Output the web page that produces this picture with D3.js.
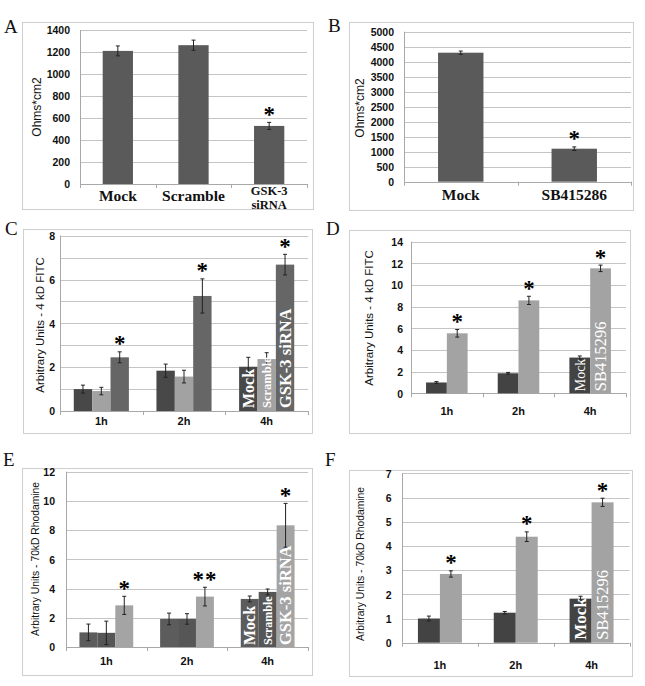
<!DOCTYPE html>
<html>
<head>
<meta charset="utf-8">
<script src="https://cdn.jsdelivr.net/npm/d3@7/dist/d3.min.js"></script>
<style>
  html, body { margin: 0; padding: 0; background: #fff; }
  svg { display: block; }
</style>
</head>
<body>
<svg id="chart" width="645" height="686"></svg>
<script>
// ---------------- DATA ----------------
// Panel A
const aCategories = ["Mock", "Scramble", "GSK-3 siRNA"];
const aValues = [1210, 1262, 528];
const aErrors = [45, 46, 32];
const aSig = ["", "", "*"];
const aTicks = [0, 200, 400, 600, 800, 1000, 1200, 1400];

// Panel B
const bCategories = ["Mock", "SB415286"];
const bValues = [4300, 1100];
const bErrors = [55, 60];
const bSig = ["", "*"];
const bTicks = [0, 500, 1000, 1500, 2000, 2500, 3000, 3500, 4000, 4500, 5000];

// Shared time points
const timePoints = ["1h", "2h", "4h"];

// Panel C (4 kD FITC, siRNA)
const cSeries = ["Mock", "Scramble", "GSK-3 siRNA"];
const cMock = [1.0, 1.84, 2.02];
const cMockErr = [0.18, 0.30, 0.43];
const cScramble = [0.91, 1.57, 2.37];
const cScrambleErr = [0.17, 0.29, 0.29];
const cGsk = [2.45, 5.25, 6.68];
const cGskErr = [0.25, 0.78, 0.47];
const cSig = ["*", "*", "*"];
const cGridTicks = [0, 1, 2, 3, 4, 5, 6, 7, 8];
const cLabelTicks = [0, 2, 4, 6, 8];

// Panel D (4 kD FITC, SB415296)
const dSeries = ["Mock", "SB415296"];
const dMock = [1.0, 1.85, 3.3];
const dMockErr = [0.08, 0.08, 0.15];
const dSb = [5.54, 8.58, 11.54];
const dSbErr = [0.35, 0.38, 0.30];
const dSig = ["*", "*", "*"];
const dTicks = [0, 2, 4, 6, 8, 10, 12, 14];

// Panel E (70kD Rhodamine, siRNA)
const eSeries = ["Mock", "Scramble", "GSK-3 siRNA"];
const eMock = [1.0, 1.92, 3.29];
const eMockErr = [0.57, 0.40, 0.20];
const eScramble = [0.97, 1.92, 3.77];
const eScrambleErr = [0.80, 0.36, 0.20];
const eGsk = [2.85, 3.45, 8.33];
const eGskErr = [0.62, 0.64, 1.50];
const eSig = ["*", "**", "*"];
const eTicks = [0, 2, 4, 6, 8, 10, 12];

// Panel F (70kD Rhodamine, SB415296)
const fSeries = ["Mock", "SB415296"];
const fMock = [1.0, 1.24, 1.82];
const fMockErr = [0.10, 0.05, 0.10];
const fSb = [2.84, 4.38, 5.80];
const fSbErr = [0.13, 0.20, 0.17];
const fSig = ["*", "*", "*"];
const fTicks = [0, 1, 2, 3, 4, 5, 6, 7];

// ---------------- DRAWING ----------------
const svg = d3.select("#chart");
const SANS = "'Liberation Sans', Arial, sans-serif";
const SERIF = "'Liberation Serif', 'Times New Roman', serif";

function drawPanel(cfg) {
  const g = svg.append("g");
  // frame
  const [fx0, fy0, fx1, fy1] = cfg.frame;
  g.append("rect").attr("x", fx0 + 0.5).attr("y", fy0 + 0.5)
    .attr("width", fx1 - fx0).attr("height", fy1 - fy0)
    .attr("fill", "none").attr("stroke", "#cfcfcf").attr("stroke-width", 1);
  // panel letter
  g.append("text").attr("x", cfg.letterPos[0]).attr("y", cfg.letterPos[1])
    .attr("font-family", SERIF).attr("font-size", 19).attr("fill", "#111")
    .text(cfg.letter);

  const y = d3.scaleLinear().domain(cfg.yDomain).range([cfg.y0, cfg.yTop]);
  const x0 = d3.scaleBand().domain(cfg.categories).range([cfg.xLeft, cfg.xRight])
    .paddingInner(cfg.groupPad).paddingOuter(cfg.groupPad / 2);
  const x1 = d3.scaleBand().domain(cfg.series.map(s => s.name))
    .range([0, x0.bandwidth()]).padding(0);

  // gridlines
  g.append("g").selectAll("line").data(cfg.gridTicks.filter(t => t > 0)).join("line")
    .attr("x1", cfg.xLeft).attr("x2", cfg.xRight)
    .attr("y1", d => Math.round(y(d)) + 0.5).attr("y2", d => Math.round(y(d)) + 0.5)
    .attr("stroke", "#c4c4c4").attr("stroke-width", 1);

  // y axis with tick labels
  const yAxis = d3.axisLeft(y).tickValues(cfg.labelTicks).tickSize(0).tickPadding(0)
    .tickFormat(d3.format("d"));
  const ya = g.append("g").attr("transform", `translate(${cfg.tickRight},0)`).call(yAxis);
  ya.select(".domain").remove();
  ya.selectAll("text").attr("font-family", SANS).attr("font-weight", "bold")
    .attr("font-size", 10.5).attr("fill", "#111").attr("dy", "0.36em");
  g.append("line").attr("x1", Math.round(cfg.xLeft) + 0.5).attr("x2", Math.round(cfg.xLeft) + 0.5)
    .attr("y1", cfg.y0).attr("y2", cfg.yTop).attr("stroke", "#a8a8a8");

  // x axis
  g.append("line").attr("x1", cfg.xLeft).attr("x2", cfg.xRight)
    .attr("y1", Math.round(cfg.y0) + 0.5).attr("y2", Math.round(cfg.y0) + 0.5)
    .attr("stroke", "#a8a8a8");
  const step = x0.step();
  const bounds = d3.range(cfg.categories.length + 1).map(i => cfg.xLeft + i * step);
  g.append("g").selectAll("line").data(bounds).join("line")
    .attr("x1", d => Math.round(d) + 0.5).attr("x2", d => Math.round(d) + 0.5)
    .attr("y1", cfg.y0).attr("y2", cfg.y0 + 4).attr("stroke", "#a8a8a8");

  // bars
  cfg.series.forEach((s, si) => {
    const bg = g.append("g");
    cfg.categories.forEach((c, ci) => {
      const v = s.values[ci], e = s.errors[ci];
      const bx = x0(c) + x1(s.name);
      const bw = x1.bandwidth();
      bg.append("rect").attr("x", bx).attr("y", y(v))
        .attr("width", bw).attr("height", y(0) - y(v)).attr("fill", s.color);
      const cx = bx + bw / 2;
      // error bar
      bg.append("line").attr("x1", cx).attr("x2", cx).attr("y1", y(v - e)).attr("y2", y(v + e))
        .attr("stroke", "#222").attr("stroke-width", 1);
      [v - e, v + e].forEach(val => {
        bg.append("line").attr("x1", cx - 2).attr("x2", cx + 2).attr("y1", y(val)).attr("y2", y(val))
          .attr("stroke", "#222").attr("stroke-width", 1);
      });
      // significance
      if (s.sig && s.sig[ci]) {
        bg.append("text").attr("x", cx).attr("y", y(v + e) - 0.5)
          .attr("text-anchor", "middle").attr("font-family", SERIF)
          .attr("font-weight", "bold")
          .attr("font-size", 23).attr("fill", "#000")
          .attr("letter-spacing", s.sig[ci].length > 1 ? 1 : 0)
          .text(s.sig[ci]);
      }
      // in-bar label
      if (s.inLabel && ci === cfg.categories.length - 1) {
        bg.append("text")
          .attr("transform", `translate(${cx},${y(0) - s.inLabel.offset}) rotate(-90)`)
          .attr("dy", "0.34em")
          .attr("font-family", SERIF).attr("font-weight", s.inLabel.bold ? "bold" : "normal")
          .attr("font-size", s.inLabel.size).attr("fill", "#fff")
          .text(s.inLabel.text);
      }
    });
  });

  // x category labels
  if (cfg.catLabelStyle === "serif") {
    cfg.categories.forEach((c, ci) => {
      const lines = cfg.catLines[ci];
      const multi = lines.length > 1;
      lines.forEach((ln, li) => {
        g.append("text").attr("text-anchor", "middle")
          .attr("font-family", SERIF).attr("font-weight", "bold")
          .attr("font-size", multi ? 12.5 : 15.5)
          .attr("fill", "#111")
          .attr("x", x0(c) + x0.bandwidth() / 2)
          .attr("y", (multi ? cfg.catY - 6 : cfg.catY) + li * 13.5).text(ln);
      });
    });
  } else {
    g.append("g").selectAll("text").data(cfg.categories).join("text")
      .attr("x", d => x0(d) + x0.bandwidth() / 2).attr("y", cfg.catY)
      .attr("text-anchor", "middle").attr("font-family", SANS).attr("font-weight", "bold")
      .attr("font-size", 11).attr("fill", "#111").text(d => d);
  }

  // y title
  g.append("text").attr("transform", `translate(${cfg.titlePos[0]},${cfg.titlePos[1]}) rotate(-90)`)
    .attr("text-anchor", "middle").attr("dy", "0.35em")
    .attr("font-family", SANS).attr("font-size", cfg.titleSize).attr("fill", "#111")
    .text(cfg.title);
}

// Panel A
drawPanel({
  letter: "A", letterPos: [4, 33], frame: [22, 22, 313, 209],
  categories: aCategories, catLabelStyle: "serif",
  catLines: [["Mock"], ["Scramble"], ["GSK-3", "siRNA"]], catY: 201,
  series: [{ name: "v", values: aValues, errors: aErrors, sig: aSig, color: "#5a5a5a" }],
  groupPad: 0.6, xLeft: 80, xRight: 307, y0: 184, yTop: 30, yDomain: [0, 1400],
  gridTicks: aTicks, labelTicks: aTicks, tickRight: 70,
  title: "Ohms*cm2", titleSize: 12, titlePos: [37, 107]
});

// Panel B
drawPanel({
  letter: "B", letterPos: [328, 32], frame: [349, 22, 633, 210],
  categories: bCategories, catLabelStyle: "serif",
  catLines: [["Mock"], ["SB415286"]], catY: 199.5,
  series: [{ name: "v", values: bValues, errors: bErrors, sig: bSig, color: "#5a5a5a" }],
  groupPad: 0.6, xLeft: 404, xRight: 631, y0: 181.7, yTop: 31.7, yDomain: [0, 5000],
  gridTicks: bTicks, labelTicks: bTicks, tickRight: 394,
  title: "Ohms*cm2", titleSize: 12, titlePos: [360, 108]
});

// Panel C
drawPanel({
  letter: "C", letterPos: [5, 235], frame: [23, 229, 312, 433],
  categories: timePoints, catLabelStyle: "sans", catY: 425,
  series: [
    { name: cSeries[0], values: cMock, errors: cMockErr, color: "#484848",
      inLabel: { text: cSeries[0], size: 16, bold: true, offset: 3 } },
    { name: cSeries[1], values: cScramble, errors: cScrambleErr, color: "#a2a2a2",
      inLabel: { text: cSeries[1], size: 12.5, bold: true, offset: 3 } },
    { name: cSeries[2], values: cGsk, errors: cGskErr, sig: cSig, color: "#666666",
      inLabel: { text: cSeries[2], size: 16.5, bold: true, offset: 3 } }
  ],
  groupPad: 1 / 3, xLeft: 60, xRight: 308, y0: 411, yTop: 235.7, yDomain: [0, 8],
  gridTicks: cGridTicks, labelTicks: cLabelTicks, tickRight: 55,
  title: "Arbitrary Units - 4 kD FITC", titleSize: 11.5, titlePos: [40, 325]
});

// Panel D
drawPanel({
  letter: "D", letterPos: [326, 235], frame: [349, 230, 630, 433],
  categories: timePoints, catLabelStyle: "sans", catY: 415,
  series: [
    { name: dSeries[0], values: dMock, errors: dMockErr, color: "#434343",
      inLabel: { text: dSeries[0], size: 14, bold: false, offset: 2 } },
    { name: dSeries[1], values: dSb, errors: dSbErr, sig: dSig, color: "#a3a3a3",
      inLabel: { text: dSeries[1], size: 16.5, bold: false, offset: 2 } }
  ],
  groupPad: 0.42, xLeft: 411, xRight: 626, y0: 393.3, yTop: 241.7, yDomain: [0, 14],
  gridTicks: dTicks, labelTicks: dTicks, tickRight: 403,
  title: "Arbitrary Units - 4 kD FITC", titleSize: 11.5, titlePos: [369, 318]
});

// Panel E
drawPanel({
  letter: "E", letterPos: [3, 466], frame: [22, 468, 312, 675],
  categories: timePoints, catLabelStyle: "sans", catY: 665,
  series: [
    { name: eSeries[0], values: eMock, errors: eMockErr, color: "#5c5c5c",
      inLabel: { text: eSeries[0], size: 16, bold: true, offset: 2 } },
    { name: eSeries[1], values: eScramble, errors: eScrambleErr, color: "#565656",
      inLabel: { text: eSeries[1], size: 12, bold: true, offset: 2 } },
    { name: eSeries[2], values: eGsk, errors: eGskErr, sig: eSig, color: "#a4a4a4",
      inLabel: { text: eSeries[2], size: 16.5, bold: true, offset: 2 } }
  ],
  groupPad: 1 / 3, xLeft: 66, xRight: 308, y0: 647, yTop: 471.7, yDomain: [0, 12],
  gridTicks: eTicks, labelTicks: eTicks, tickRight: 55,
  title: "Arbitrary Units - 70kD Rhodamine", titleSize: 10.3, titlePos: [35, 559]
});

// Panel F
drawPanel({
  letter: "F", letterPos: [325, 466], frame: [349, 470, 632, 676],
  categories: timePoints, catLabelStyle: "sans", catY: 669,
  series: [
    { name: fSeries[0], values: fMock, errors: fMockErr, color: "#434343",
      inLabel: { text: fSeries[0], size: 17, bold: true, offset: 3 } },
    { name: fSeries[1], values: fSb, errors: fSbErr, sig: fSig, color: "#a3a3a3",
      inLabel: { text: fSeries[1], size: 16.5, bold: false, offset: 3 } }
  ],
  groupPad: 0.42, xLeft: 402, xRight: 629.5, y0: 642.7, yTop: 473.3, yDomain: [0, 7],
  gridTicks: fTicks, labelTicks: fTicks, tickRight: 391.7,
  title: "Arbitrary Units - 70kD Rhodamine", titleSize: 10.3, titlePos: [360, 564]
});
</script>
</body>
</html>
